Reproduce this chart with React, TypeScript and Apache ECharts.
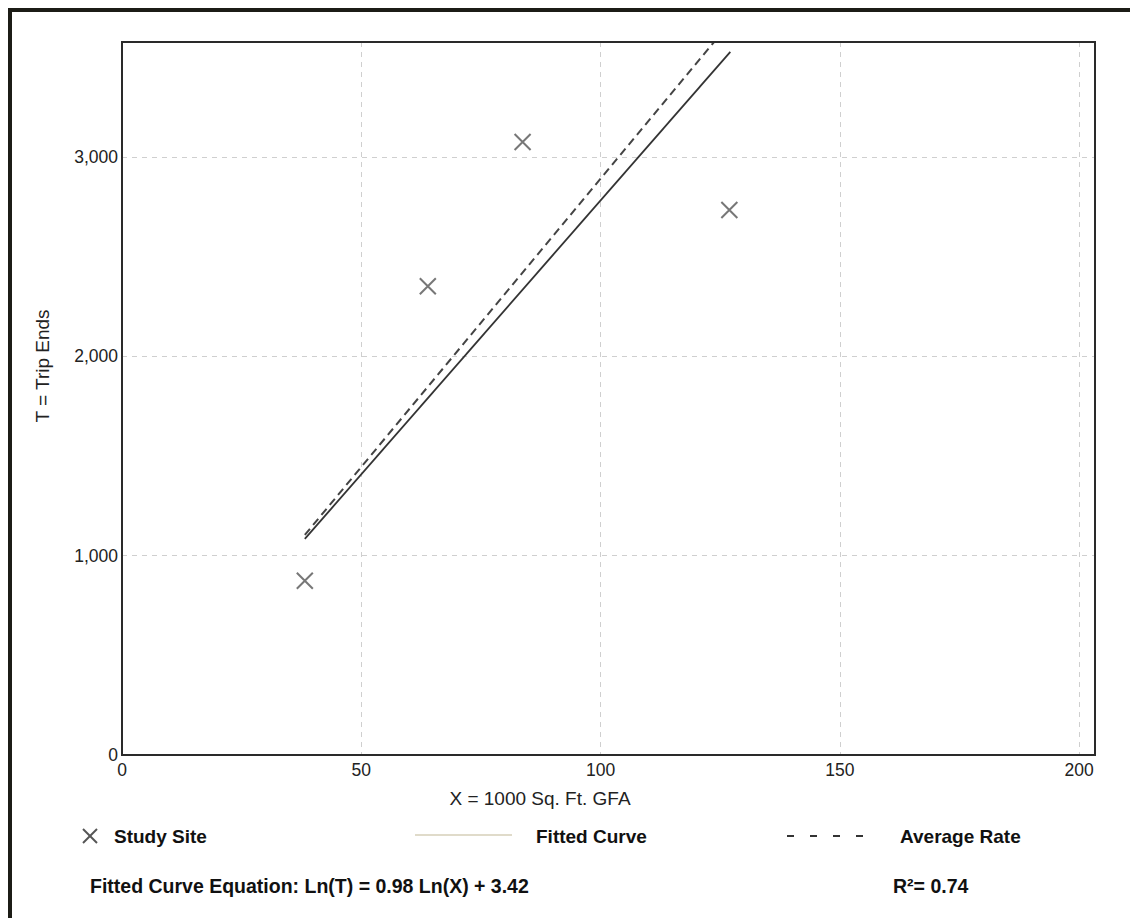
import React, { useEffect, useRef } from "react";
import * as echarts from "echarts";

// Study site observations (X = 1000 Sq. Ft. GFA, T = trip ends)
const siteX = [38.2, 63.9, 83.7, 126.9];
const siteT = [874, 2352, 3075, 2734];

// Fitted curve Ln(T) = 0.98 Ln(X) + 3.42, end points
const fittedX = [38.2, 127.1];
const fittedT = [1084, 3527];

// Average rate line, end points (clipped at top)
const avgX = [38.2, 123.7];
const avgT = [1104, 3577];

const xTicks = [0, 50, 100, 150, 200];
const yTicks = [0, 1000, 2000, 3000];

const FONT = "Liberation Sans, Arial, sans-serif";

export default function App() {
  const ref = useRef<HTMLDivElement>(null);
  useEffect(() => {
    if (!ref.current) return;
    const chart = echarts.init(ref.current, null, { renderer: "svg" });
    const gridLeft = 114;
    const gridTop = 34;
    const gridW = 973;
    const gridH = 713;
    chart.setOption({
      animation: false,
      backgroundColor: "#ffffff",
      grid: {
        left: gridLeft,
        top: gridTop,
        width: gridW,
        height: gridH,
        show: false,
      },
      xAxis: {
        type: "value",
        min: 0,
        max: 203.3,
        interval: 50,
        axisLine: { show: true, lineStyle: { color: "#2a2a2a", width: 2 } },
        axisTick: { show: false },
        axisLabel: {
          fontFamily: FONT,
          fontSize: 17.5,
          color: "#222",
          margin: 6,
          showMaxLabel: false,
          formatter: (v: number) => (xTicks.includes(v) ? String(v) : ""),
        },
        splitLine: {
          show: true,
          showMinLine: false,
          showMaxLine: false,
          lineStyle: { color: "#cfcfcf", width: 1, type: [5, 5] },
        },
      },
      yAxis: {
        type: "value",
        min: 0,
        max: 3577,
        interval: 1000,
        axisLine: { show: true, lineStyle: { color: "#2a2a2a", width: 2 } },
        axisTick: { show: false },
        axisLabel: {
          fontFamily: FONT,
          fontSize: 17.5,
          color: "#222",
          margin: 4,
          showMaxLabel: false,
          formatter: (v: number) =>
            yTicks.includes(v) ? v.toLocaleString("en-US") : "",
        },
        splitLine: {
          show: true,
          showMinLine: false,
          showMaxLine: false,
          lineStyle: { color: "#cfcfcf", width: 1, type: [5, 5] },
        },
      },
      series: [
        {
          name: "Average Rate",
          type: "line",
          data: avgX.map((x, i) => [x, avgT[i]]),
          showSymbol: false,
          symbol: "none",
          lineStyle: { color: "#444", width: 2, type: [8, 5] },
          z: 3,
        },
        {
          name: "Fitted Curve",
          type: "line",
          data: fittedX.map((x, i) => [x, fittedT[i]]),
          showSymbol: false,
          symbol: "none",
          lineStyle: { color: "#333", width: 1.8 },
          z: 3,
        },
        {
          name: "Study Site",
          type: "scatter",
          data: siteX.map((x, i) => [x, siteT[i]]),
          symbol: "path://M0,0L10,10M10,0L0,10",
          symbolSize: 16,
          itemStyle: { color: "transparent", borderColor: "#555", borderWidth: 2 },
          z: 4,
        },
      ],
      graphic: [
        { type: "rect", shape: { x: 0, y: 0, width: 4, height: 910 }, style: { fill: "#1c1c16" } },
        { type: "rect", shape: { x: 0, y: 0, width: 1130, height: 4 }, style: { fill: "#1c1c16" } },
        {
          type: "rect",
          z: 100,
          shape: { x: gridLeft, y: gridTop, width: gridW, height: gridH },
          style: { fill: "none", stroke: "#2a2a2a", lineWidth: 2 },
        },
        {
          type: "text",
          x: 34.5,
          y: 358,
          rotation: Math.PI / 2,
          style: {
            text: "T = Trip Ends",
            font: `19px ${FONT}`,
            fill: "#222",
            align: "center",
            verticalAlign: "middle",
          },
        },
        {
          type: "text",
          x: 532,
          y: 790,
          style: {
            text: "X = 1000 Sq. Ft. GFA",
            font: `19px ${FONT}`,
            fill: "#222",
            align: "center",
            verticalAlign: "middle",
          },
        },
        { type: "line", shape: { x1: 75, y1: 821, x2: 89, y2: 835 }, style: { stroke: "#555", lineWidth: 2 } },
        { type: "line", shape: { x1: 89, y1: 821, x2: 75, y2: 835 }, style: { stroke: "#555", lineWidth: 2 } },
        {
          type: "text",
          x: 106,
          y: 828,
          style: { text: "Study Site", font: `bold 19px ${FONT}`, fill: "#111", verticalAlign: "middle" },
        },
        { type: "line", shape: { x1: 407, y1: 827, x2: 504, y2: 827 }, style: { stroke: "#d6cfb8", lineWidth: 1.5 } },
        {
          type: "text",
          x: 528,
          y: 828,
          style: { text: "Fitted Curve", font: `bold 19px ${FONT}`, fill: "#111", verticalAlign: "middle" },
        },
        {
          type: "line",
          shape: { x1: 779, y1: 828, x2: 858, y2: 828 },
          style: { stroke: "#333", lineWidth: 2, lineDash: [7, 16] },
        },
        {
          type: "text",
          x: 892,
          y: 828,
          style: { text: "Average Rate", font: `bold 19px ${FONT}`, fill: "#111", verticalAlign: "middle" },
        },
        {
          type: "text",
          x: 82,
          y: 878,
          style: {
            text: "Fitted Curve Equation: Ln(T) = 0.98 Ln(X) + 3.42",
            font: `bold 19.5px ${FONT}`,
            fill: "#111",
            verticalAlign: "middle",
          },
        },
        {
          type: "text",
          x: 885,
          y: 878,
          style: { text: "R²= 0.74", font: `bold 19.5px ${FONT}`, fill: "#111", verticalAlign: "middle" },
        },
      ],
    });
    return () => chart.dispose();
  }, []);
  return <div ref={ref} style={{ width: 1130, height: 910 }} />;
}
